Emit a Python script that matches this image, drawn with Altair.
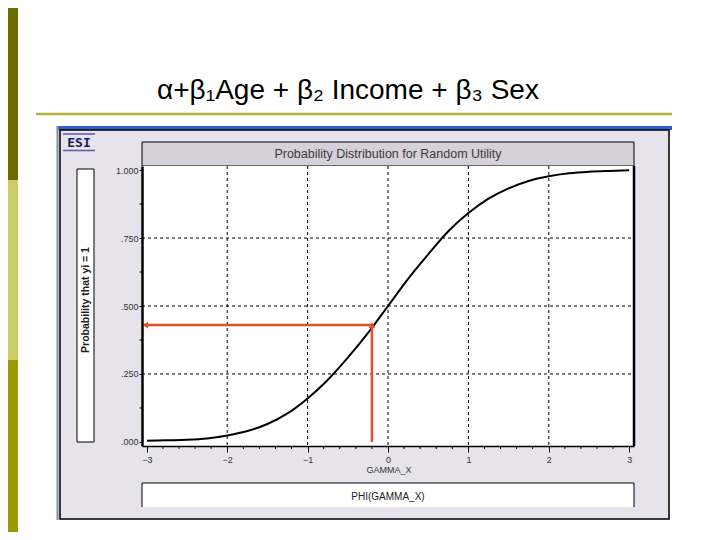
import altair as alt
import pandas as pd

# ---- data ----
gamma_x = [-3.0, -2.75, -2.5, -2.25, -2.0, -1.75, -1.5, -1.25, -1.0, -0.75, -0.5, -0.25,
           0.0, 0.25, 0.5, 0.75, 1.0, 1.25, 1.5, 1.75, 2.0, 2.25, 2.5, 2.75, 3.0]
phi_vals = [0.004, 0.006, 0.008, 0.013, 0.024, 0.040, 0.066, 0.105, 0.160, 0.228, 0.310, 0.400,
            0.500, 0.600, 0.690, 0.775, 0.842, 0.895, 0.933, 0.960, 0.977, 0.988, 0.994, 0.997, 0.999]

x_ticks = [-3, -2, -1, 0, 1, 2, 3]
y_ticks = [0.0, 0.25, 0.5, 0.75, 1.0]
x_grid = [-2, -1, 0, 1, 2]
y_grid = [0.25, 0.5, 0.75]
x_minor = [-2.8, -2.6, -2.4, -2.2, -1.8, -1.6, -1.4, -1.2, -0.8, -0.6, -0.4, -0.2,
           0.2, 0.4, 0.6, 0.8, 1.2, 1.4, 1.6, 1.8, 2.2, 2.4, 2.6, 2.8]
y_minor = [0.125, 0.375, 0.625, 0.875]

marker_x = -0.2
marker_p = 0.43

slide_title = "α+β₁Age + β₂ Income + β₃ Sex"
panel_title = "Probability Distribution for Random Utility"
y_title = "Probability that yi = 1"
x_title = "GAMMA_X"
series_name = "PHI(GAMMA_X)"

W, H = 492, 280
FONT = "Liberation Sans, Arial, sans-serif"

xs = alt.Scale(domain=[-3.06, 3.06], nice=False, zero=False)
ys = alt.Scale(domain=[-0.015, 1.015], nice=False, zero=False)

one = pd.DataFrame({"k": [0]})


def box(x1, x2, y1, y2, **kw):
    return alt.Chart(one).mark_rect(**kw).encode(
        x=alt.value(x1), x2=alt.value(x2), y=alt.value(y1), y2=alt.value(y2))


def line(x1, x2, y1, y2, **kw):
    return alt.Chart(one).mark_rule(**kw).encode(
        x=alt.value(x1), x2=alt.value(x2), y=alt.value(y1), y2=alt.value(y2))


def label(txt, x, y, **kw):
    return alt.Chart(one).mark_text(text=txt, **kw).encode(x=alt.value(x), y=alt.value(y))


# slide decoration
bars = [
    box(-134, -124, -158, 14, color="#6b6b00"),
    box(-134, -124, 14, 194, color="#cccc66"),
    box(-134, -124, 194, 366, color="#999900"),
]
title = label(slide_title, 206, -67, fontSize=28, font="Liberation Sans Narrow, Arial Narrow, Liberation Sans, sans-serif",
              color="black", baseline="alphabetic", align="center")
hrule = line(-106, 530, -52, -52, color="#b3b33f", strokeWidth=2.5)

# window
panel = box(-85, 528, -37, 354, color="#e6e3ec")
blue = box(-85, 530, -40, -36, color="#2f5fc4")
win_left = line(-84.5, -84.5, -40, 354, color="#7f90a4", strokeWidth=2)
win_border = box(-82, 527, -36, 353, fill=None, stroke="black", strokeWidth=1.5, filled=False)
esi = [
    label("ESI", -63, -23.5, fontSize=13, fontWeight="bold", color="#1c1c5c", font="DejaVu Sans Mono"),
    line(-79, -47, -32, -32, color="#5a5aa8", strokeWidth=1.5),
    line(-79, -47, -15.5, -15.5, color="#5a5aa8", strokeWidth=1.5),
]

header = box(0, W, -24, 0, fill="#d6d0d8", stroke="black", strokeWidth=1)
header_txt = label(panel_title, 246, -12, fontSize=12.5, font=FONT, color="#3a3a3a", baseline="middle")
plot_bg = box(0, W, 0, H, color="white")
right_edge = line(W, W, 0, H, color="black", strokeWidth=2.5)

ybox = box(-65, -48, 3, 276, fill="white", stroke="black", strokeWidth=1)
ybox_txt = label(y_title, -56.5, 134, angle=270, fontSize=10.5, fontWeight="bold", font=FONT,
                 color="#222222", baseline="middle")

xtitle = label(x_title, 247, 304, fontSize=9, font=FONT, color="#333333", baseline="middle")
phi_box = [
    box(0, W, 317, 341, color="white"),
    line(0, W, 317, 317, color="black", strokeWidth=1),
    line(0, 0, 317, 341, color="black", strokeWidth=1),
    line(W, W, 317, 341, color="black", strokeWidth=1),
]
phi_txt = label(series_name, 246, 331, fontSize=10, font=FONT, color="#222222", baseline="middle")

# grid and minor ticks
gx = alt.Chart(pd.DataFrame({"x": x_grid})).mark_rule(color="black", strokeDash=[3, 3], strokeWidth=1).encode(
    x=alt.X("x:Q", scale=xs), y=alt.value(0), y2=alt.value(H))
gy = alt.Chart(pd.DataFrame({"y": y_grid})).mark_rule(color="black", strokeDash=[3, 3], strokeWidth=1).encode(
    y=alt.Y("y:Q", scale=ys), x=alt.value(0), x2=alt.value(W))
mx = alt.Chart(pd.DataFrame({"x": x_minor})).mark_rule(color="black", strokeWidth=1).encode(
    x=alt.X("x:Q", scale=xs), y=alt.value(H), y2=alt.value(H + 3))
my = alt.Chart(pd.DataFrame({"y": y_minor})).mark_rule(color="black", strokeWidth=1).encode(
    y=alt.Y("y:Q", scale=ys), x=alt.value(-2.5), x2=alt.value(0))

curve_df = pd.DataFrame({"gamma_x": gamma_x, "phi": phi_vals})
curve = alt.Chart(curve_df).mark_line(color="black", strokeWidth=2, interpolate="monotone").encode(
    x=alt.X("gamma_x:Q", scale=xs,
            axis=alt.Axis(values=x_ticks, format="d", title=None, grid=False, zindex=1,
                          labelFontSize=9, labelFont=FONT, labelColor="#333333", labelPadding=3,
                          tickSize=6, tickColor="black", domainColor="black", domainWidth=1.5)),
    y=alt.Y("phi:Q", scale=ys,
            axis=alt.Axis(values=y_ticks, title=None, grid=False, zindex=1,
                          labelExpr="datum.value >= 1 ? '1.000' : replace(format(datum.value, '.3f'), '0.', '.')",
                          labelFontSize=9, labelFont=FONT, labelColor="#333333", labelPadding=1,
                          tickSize=3, tickColor="black", domainColor="black", domainWidth=2.5)),
)

RED = "#e0502c"
red_df = pd.DataFrame({"x": [marker_x], "x0": [-3.02], "p": [marker_p], "z": [0.0]})
red_v = alt.Chart(red_df).mark_rule(color=RED, strokeWidth=2.5).encode(
    x=alt.X("x:Q", scale=xs), y=alt.Y("z:Q", scale=ys), y2="p:Q")
red_h = alt.Chart(red_df).mark_rule(color=RED, strokeWidth=2.5).encode(
    x=alt.X("x0:Q", scale=xs), x2="x:Q", y=alt.Y("p:Q", scale=ys))
red_head_l = alt.Chart(red_df).mark_point(shape="triangle-left", filled=True, color=RED, size=45, opacity=1).encode(
    x=alt.X("x0:Q", scale=xs), y=alt.Y("p:Q", scale=ys))
red_head_u = alt.Chart(red_df).mark_point(shape="triangle-up", filled=True, color=RED, size=45, opacity=1).encode(
    x=alt.X("x:Q", scale=xs), y=alt.Y("p:Q", scale=ys))

layers = (bars + [title, hrule, panel, blue, win_left, win_border] + esi +
          [header, header_txt, plot_bg, ybox, ybox_txt, xtitle] + phi_box + [phi_txt,
           gx, gy, mx, my, curve, red_v, red_h, red_head_l, red_head_u, right_edge])

chart = alt.layer(*layers).properties(
    width=W, height=H,
    autosize=alt.AutoSizeParams(type="none"),
    padding={"left": 134, "top": 158, "right": 78, "bottom": 86},
).configure_view(stroke=None).configure(background="white")

chart.save("out.html", embed_options={"renderer": "svg", "actions": False})
